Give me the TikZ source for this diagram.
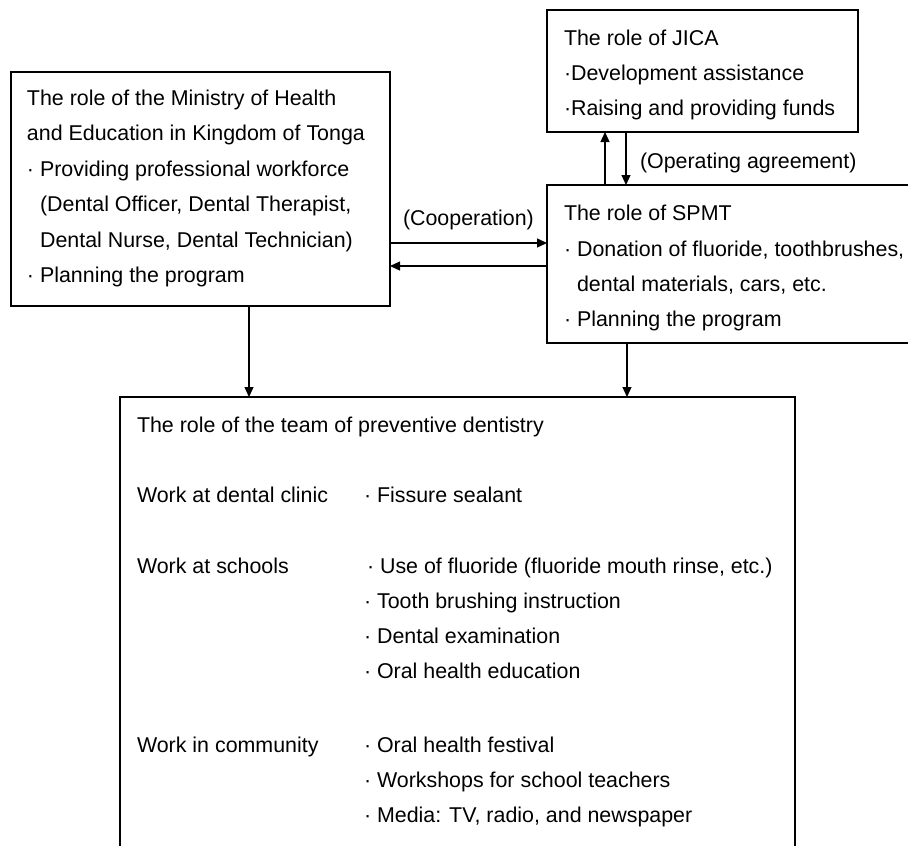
\documentclass[tikz,border=0pt]{standalone}
\usepackage{fontspec}
\setmainfont{Liberation Sans}
\usetikzlibrary{arrows.meta}
\begin{document}
\begin{tikzpicture}[x=1pt,y=-1pt,
  box/.style={draw, line width=1.3pt, rectangle, inner sep=0pt, outer sep=0pt, anchor=north west},
  bigbox/.style={box, line width=2.6pt},
  txt/.style={anchor=base west, inner sep=0pt, outer sep=0pt, font=\fontsize{21.4}{30}\selectfont},
  arr/.style={line width=1.3pt, -{Triangle[width=9pt,length=10pt]}}]
\clip (0,0) rectangle (908,846);
\fill[white] (0,0) rectangle (908,846);
% boxes
\node[box, minimum width=311pt, minimum height=122pt] (jica) at (547,10) {};
\node[box, minimum width=379pt, minimum height=234pt] (min) at (11,72) {};
\node[box, minimum width=393pt, minimum height=158pt] (spmt) at (547,185) {};
\node[bigbox, minimum width=675pt, minimum height=503pt] (team) at (120,397) {};
% JICA text
\node[txt] (j1) at (564,45) {The role of JICA};
\node[txt] (j2) at (564,80) {·Development assistance};
\node[txt] (j3) at (564,115) {·Raising and providing funds};
% Ministry text
\node[txt] (m1) at (27,105) {The role of the Ministry of Health};
\node[txt] (m2) at (27,140.5) {and Education in Kingdom of Tonga};
\node[txt] (m3) at (27,176) {· Providing professional workforce};
\node[txt] (m4) at (27,211) {\hphantom{·\ }(Dental Officer, Dental Therapist,};
\node[txt] (m5) at (27,247) {\hphantom{·\ }Dental Nurse, Dental Technician)};
\node[txt] (m6) at (27,282) {· Planning the program};
% SPMT text
\node[txt] (s1) at (564,220) {The role of SPMT};
\node[txt] (s2) at (564,256) {· Donation of fluoride, toothbrushes,};
\node[txt] (s3) at (564,291) {\hphantom{·\ }dental materials, cars, etc.};
\node[txt] (s4) at (564,326) {· Planning the program};
% labels
\node[txt] (coop) at (403,225) {(Cooperation)};
\node[txt] (oper) at (640,168) {(Operating agreement)};
% team text
\node[txt] (t0) at (137,432) {The role of the team of preventive dentistry};
\node[txt] (t1) at (137,502) {Work at dental clinic};
\node[txt] (t2) at (137,573) {Work at schools};
\node[txt] (t3) at (137,752) {Work in community};
\node[txt] (r1) at (364,502) {· Fissure sealant};
\node[txt] (r2) at (367,573) {· Use of fluoride (fluoride mouth rinse, etc.)};
\node[txt] (r3) at (364,608) {· Tooth brushing instruction};
\node[txt] (r4) at (364,643) {· Dental examination};
\node[txt] (r5) at (364,678) {· Oral health education};
\node[txt] (r6) at (364,752) {· Oral health festival};
\node[txt] (r7) at (364,787) {· Workshops for school teachers};
\node[txt] (r8) at (364,822) {· Media: TV, radio, and newspaper};
% connectors
\draw[arr] ([xshift=58pt]spmt.north west) -- ([xshift=58pt]spmt.north west |- jica.south);
\draw[arr] ([xshift=79pt]spmt.north west |- jica.south) -- ([xshift=79pt]spmt.north west);
\draw[arr] ([yshift=-54pt]min.east) -- ([yshift=-54pt]min.east -| spmt.west);
\draw[arr] ([yshift=-77pt]min.east -| spmt.west) -- ([yshift=-77pt]min.east);
\draw[arr] ([xshift=48.5pt]min.south) -- ([xshift=48.5pt]min.south |- team.north);
\draw[arr] ([xshift=80pt]spmt.south west) -- ([xshift=80pt]spmt.south west |- team.north);
\end{tikzpicture}
\end{document}
